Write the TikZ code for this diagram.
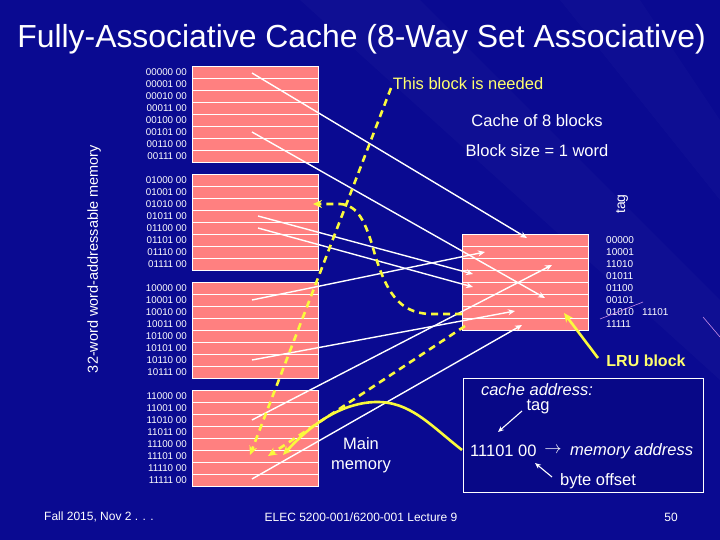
\documentclass[tikz,border=0pt]{standalone}
\usepackage{fontspec}
\setmainfont{Liberation Sans}
\usetikzlibrary{arrows.meta}
\definecolor{bg}{RGB}{10,10,145}
\definecolor{bgbox}{RGB}{8,8,135}
\definecolor{pinkc}{RGB}{255,128,128}
\definecolor{yel}{RGB}{250,250,60}
\definecolor{yeltext}{RGB}{255,255,110}
\definecolor{strike}{RGB}{200,140,230}
\tikzset{
  memblk/.style={draw=white, line width=0.8pt, fill=pinkc, minimum width=126pt, minimum height=96pt, inner sep=0pt, outer sep=0pt},
  rowline/.style={white, line width=0.7pt},
  addrlbl/.style={anchor=east, text=white, inner sep=0pt, font=\fontsize{9.8}{11}\selectfont},
  taglbl/.style={anchor=west, text=white, inner sep=0pt, font=\fontsize{10}{12}\selectfont},
  wline/.style={white, line width=1.4pt, -{Stealth[length=7pt,width=6pt]}},
  thinarrow/.style={white, line width=1.1pt, -{Stealth[length=6pt,width=5pt]}},
  ydash/.style={draw=yel, line width=2.6pt, dash pattern=on 7pt off 5pt, -{Stealth[length=9pt,width=8pt]}},
  ysolid/.style={draw=yel, line width=2.6pt, -{Stealth[length=9pt,width=8pt]}},
  midtxt/.style={text=white, inner sep=0pt, font=\fontsize{16.5}{19}\selectfont},
}
\begin{document}
\begin{tikzpicture}[x=1pt,y=-1pt]
\useasboundingbox (0,0) rectangle (720,540);
\fill[bg] (0,0) rectangle (720,540);
% faint background rays
\fill[white, opacity=0.025] (300,0) -- (420,0) -- (720,300) -- (720,380) -- cycle;
\fill[white, opacity=0.02] (560,0) -- (640,0) -- (720,120) -- (720,200) -- cycle;

% title
\node[text=white, inner sep=0pt, font=\fontsize{31.9}{36}\selectfont] (title) at (361.5,39) {Fully-Associative Cache (8-Way Set Associative)};

% vertical label
\node[text=white, inner sep=0pt, rotate=90, font=\fontsize{14.5}{16}\selectfont] (vlabel) at (94,259) {32-word word-addressable memory};

% memory blocks
\node[memblk] (m1) at (255,114) {};
\node[memblk] (m2) at (255,222) {};
\node[memblk] (m3) at (255,330) {};
\node[memblk] (m4) at (255,438) {};
\foreach \t in {66,174,282,390} {
  \foreach \i in {1,...,7} {
    \draw[rowline] (192,{\t+12*\i}) -- (318,{\t+12*\i});
  }
}

% memory address labels
\foreach \lab [count=\i from 0] in {00000 00,00001 00,00010 00,00011 00,00100 00,00101 00,00110 00,00111 00}
  \node[addrlbl] (la\i) at (187,{72+12*\i}) {\lab};
\foreach \lab [count=\i from 0] in {01000 00,01001 00,01010 00,01011 00,01100 00,01101 00,01110 00,01111 00}
  \node[addrlbl] (lb\i) at (187,{180+12*\i}) {\lab};
\foreach \lab [count=\i from 0] in {10000 00,10001 00,10010 00,10011 00,10100 00,10101 00,10110 00,10111 00}
  \node[addrlbl] (lc\i) at (187,{288+12*\i}) {\lab};
\foreach \lab [count=\i from 0] in {11000 00,11001 00,11010 00,11011 00,11100 00,11101 00,11110 00,11111 00}
  \node[addrlbl] (ld\i) at (187,{396+12*\i}) {\lab};

% cache
\node[memblk] (cache) at (525,282) {};
\foreach \i in {1,...,7} \draw[rowline] (462,{234+12*\i}) -- (588,{234+12*\i});

% tags
\foreach \lab [count=\i from 0] in {00000,10001,11010,01011,01100,00101,01010,11111}
  \node[taglbl] (tg\i) at (606,{240+12*\i}) {\lab};
\node[taglbl] (tgnew) at (642,312) {11101};
\draw[strike, line width=0.6pt] (600,319) -- (643,302);
\draw[strike, line width=0.6pt] (703,317) -- (720,337);

\node[text=white, inner sep=0pt, rotate=90, font=\fontsize{14}{16}\selectfont] (taghead) at (622,204) {tag};

% texts
\node[text=yeltext, inner sep=0pt, font=\fontsize{16.5}{19}\selectfont] (needed) at (468,84) {This block is needed};
\node[midtxt] (cof8) at (537,121) {Cache of 8 blocks};
\node[midtxt] (bsize) at (537,151) {Block size = 1 word};
\node[text=yeltext, inner sep=0pt, font=\bfseries\fontsize{16}{19}\selectfont] (lru) at (646,361) {LRU block};
\node[midtxt, align=center, font=\fontsize{16.5}{19.5}\selectfont] (mainmem) at (361,455) {Main\\memory};

% address box
\node[draw=white, line width=0.6pt, fill=bgbox, minimum width=240pt, minimum height=114pt, inner sep=0pt] (addr) at (583,435) {};
\node[midtxt, font=\itshape\fontsize{16.5}{19}\selectfont] (cacheaddr) at (537,389.5) {cache address:};
\node[midtxt] (tagtxt) at (538,407) {tag};
\node[midtxt, anchor=west] (binaddr) at (470,451) {11101 00};
\node[midtxt] (arrowsym) at (553,450) {$\rightarrow$};
\node[midtxt, anchor=west, font=\itshape\fontsize{16.5}{19}\selectfont] (memaddr) at (570,451) {memory address};
\node[midtxt] (byteoff) at (598,481) {byte offset};
\coordinate (tagA) at (522,411);
\coordinate (tagB) at (498,432);
\coordinate (boA) at (552,477);
\coordinate (boB) at (535,463);
\draw[thinarrow] (tagA) -- (tagB);
\draw[thinarrow] (boA) -- (boB);

% white mapping arrows
\coordinate (s0) at (252,73);   \coordinate (e0) at (527,238);
\coordinate (s1) at (252,132);  \coordinate (e1) at (545,298);
\coordinate (s2) at (258,216);  \coordinate (e2) at (473,274);
\coordinate (s3) at (258,228);  \coordinate (e3) at (473,287);
\coordinate (s4) at (252,300);  \coordinate (e4) at (485,252);
\coordinate (s5) at (252,360);  \coordinate (e5) at (515,311);
\coordinate (s6) at (252,420);  \coordinate (e6) at (552,265);
\coordinate (s7) at (252,479);  \coordinate (e7) at (522,325);
\foreach \k in {0,...,7} \draw[wline] (s\k) -- (e\k);

% yellow connectors
\coordinate (nd) at (391,88);
\coordinate (ndend) at (250,455);
\draw[ydash] (nd) -- (ndend);
\coordinate (c6) at (462,314);
\coordinate (m01010) at (313,204);
\draw[ydash] (c6) -- (430,314) .. controls (398,313) and (386,290) .. (375,255) .. controls (366,222) and (358,205) .. (340,204) -- (m01010);
\coordinate (c6b) at (465,326);
\coordinate (m11101a) at (268,456);
\draw[ydash] (c6b) -- (m11101a);
\coordinate (boxL) at (462,450);
\coordinate (m11101b) at (283,455);
\draw[ysolid] (boxL) .. controls (430,425) and (410,401) .. (375,402) .. controls (345,403) and (315,420) .. (m11101b);
\coordinate (lruA) at (598,358);
\coordinate (lruB) at (564,313);
\draw[ysolid] (lruA) -- (lruB);

% footer
\node[text=white, inner sep=0pt, anchor=west, font=\fontsize{12}{14}\selectfont] (foot1) at (44,517) {Fall 2015, Nov 2 . . .};
\node[text=white, inner sep=0pt, font=\fontsize{12}{14}\selectfont] (foot2) at (361,517) {ELEC 5200-001/6200-001 Lecture 9};
\node[text=white, inner sep=0pt, font=\fontsize{12}{14}\selectfont] (foot3) at (671,517) {50};
\end{tikzpicture}
\end{document}
